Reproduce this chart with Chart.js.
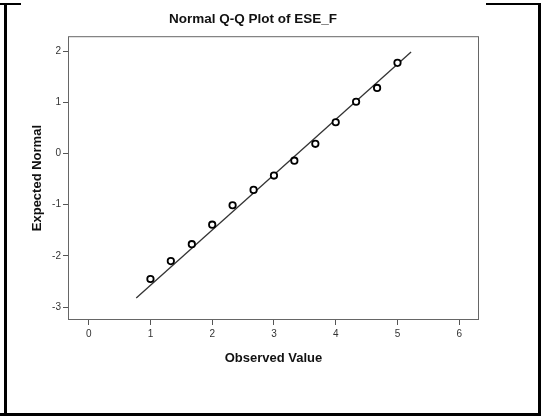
<!DOCTYPE html>
<html>
<head>
<meta charset="utf-8">
<title>Normal Q-Q Plot of ESE_F</title>
<script src="https://cdn.jsdelivr.net/npm/chart.js@4/dist/chart.umd.min.js"></script>
<style>
  html, body { margin: 0; padding: 0; background: #fff; }
  #wrap { position: relative; width: 541px; height: 416px; overflow: hidden; }
  #grafico { position: absolute; left: 0; top: 0; }
  .borda { position: absolute; background: #000; }
</style>
</head>
<body>
<div id="wrap">
  <canvas id="grafico" width="541" height="416"></canvas>
  <!-- moldura da célula -->
  <div class="borda" style="left:4px; top:3px; width:3px; height:413px;"></div>
  <div class="borda" style="left:0; top:3px; width:21px; height:2px;"></div>
  <div class="borda" style="left:486px; top:3px; width:55px; height:2px;"></div>
  <div class="borda" style="left:538px; top:3px; width:3px; height:413px;"></div>
  <div class="borda" style="left:0; top:413px; width:541px; height:3px;"></div>
</div>
<script>
// --- DADOS ---
const valoresObservados = [1, 1.33, 1.67, 2, 2.33, 2.67, 3, 3.33, 3.67, 4, 4.33, 4.67, 5];
const normalEsperado = [-2.45, -2.10, -1.77, -1.39, -1.01, -0.71, -0.43, -0.14, 0.19, 0.61, 1.01, 1.28, 1.77];
const retaX = [0.77, 5.22];
const retaY = [-2.82, 1.98];
const ticksX = [0, 1, 2, 3, 4, 5, 6];
const ticksY = [-3, -2, -1, 0, 1, 2];

const pontos = valoresObservados.map((x, i) => ({ x, y: normalEsperado[i] }));
const reta = retaX.map((x, i) => ({ x, y: retaY[i] }));

// contorno da área do gráfico
const molduraPlot = {
    id: 'molduraPlot',
    beforeDatasetsDraw(chart) {
        const { ctx, chartArea: a } = chart;
        ctx.save();
        ctx.strokeStyle = '#666';
        ctx.lineWidth = 1;
        ctx.strokeRect(a.left + 0.5, a.top + 0.5, a.right - a.left - 1, a.bottom - a.top - 1);
        ctx.restore();
    }
};

const fonteTick = { family: '"Liberation Sans", Arial, sans-serif', size: 10 };
const fonteTitulo = { family: '"Liberation Sans", Arial, sans-serif', size: 13, weight: 'bold' };

new Chart(document.getElementById('grafico'), {
    type: 'scatter',
    data: {
        datasets: [
            {
                label: 'Observado',
                data: pontos,
                pointStyle: 'circle',
                pointRadius: 3.2,
                pointBorderWidth: 1.8,
                pointBorderColor: '#000',
                pointBackgroundColor: '#fff',
                order: 0
            },
            {
                type: 'line',
                label: 'Reta',
                data: reta,
                borderColor: '#333',
                borderWidth: 1.3,
                pointRadius: 0,
                fill: false,
                order: 1
            }
        ]
    },
    options: {
        responsive: false,
        animation: false,
        events: [],
        layout: { padding: { left: 27, right: 62, top: 0, bottom: 0 } },
        plugins: {
            legend: { display: false },
            tooltip: { enabled: false },
            title: {
                display: true,
                text: 'Normal Q-Q Plot of ESE_F',
                color: '#111',
                font: { family: '"Liberation Sans", Arial, sans-serif', size: 13.5, weight: 'bold' },
                padding: { top: 11, bottom: 9 }
            }
        },
        scales: {
            x: {
                type: 'linear',
                min: -0.335,
                max: 6.32,
                afterFit: (s) => { s.height = 96; },
                afterBuildTicks: (s) => { s.ticks = ticksX.map(v => ({ value: v })); },
                border: { display: false },
                grid: { drawOnChartArea: false, drawTicks: true, tickLength: 5, tickColor: '#555' },
                ticks: { color: '#333', font: fonteTick, padding: 3, maxRotation: 0 },
                title: { display: true, text: 'Observed Value', color: '#111', font: fonteTitulo, padding: { top: 0, bottom: 50 } }
            },
            y: {
                type: 'linear',
                min: -3.25,
                max: 2.29,
                afterFit: (s) => { s.width = 41; },
                afterBuildTicks: (s) => { s.ticks = ticksY.map(v => ({ value: v })); },
                border: { display: false },
                grid: { drawOnChartArea: false, drawTicks: true, tickLength: 5, tickColor: '#555' },
                ticks: { color: '#333', font: fonteTick, padding: 2 },
                title: { display: true, text: 'Expected Normal', color: '#111', font: fonteTitulo, padding: { top: 3, bottom: 0 } }
            }
        }
    },
    plugins: [molduraPlot]
});
</script>
</body>
</html>
